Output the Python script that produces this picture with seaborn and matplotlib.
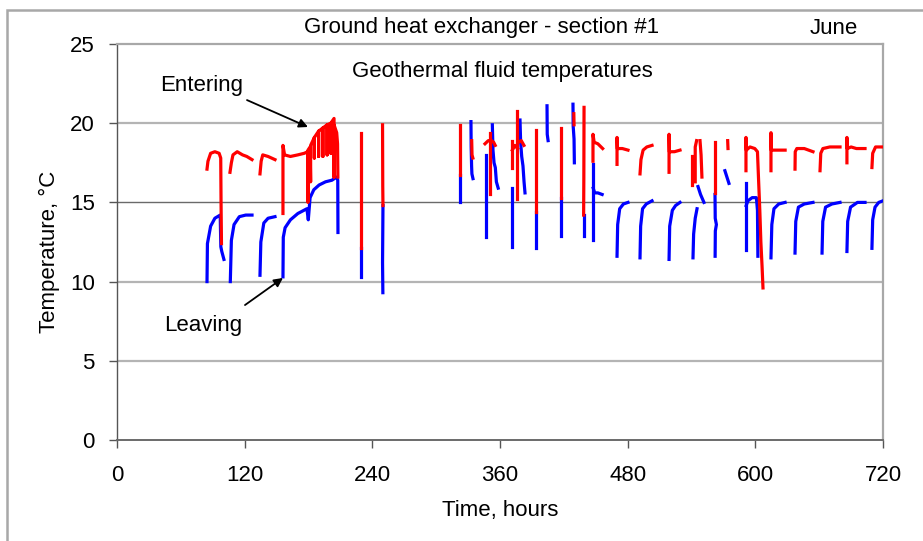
import matplotlib
matplotlib.use("Agg")
import matplotlib.pyplot as plt
from matplotlib.patches import Rectangle
import seaborn as sns
import pandas as pd

# ---------------- data (hours, °C) ----------------
LEAVING = [
    [(84.6, 10.0), (85.0, 12.4), (88.0, 13.5), (92.0, 14.0), (97.0, 14.2), (97.6, 12.2), (98.5, 11.9), (100.5, 11.4)],
    [(106.5, 10.0), (107.5, 12.6), (110.0, 13.6), (115.0, 14.1), (121.0, 14.2), (126.9, 14.2)],
    [(134.4, 10.4), (135.2, 12.5), (138.0, 13.7), (142.0, 14.0), (148.5, 14.1)],
    [(156.0, 10.3), (156.3, 12.8), (158.0, 13.4), (163.0, 13.9), (170.0, 14.3), (178.5, 14.6), (179.8, 13.9),
     (181.5, 15.3), (185.0, 15.8), (190.0, 16.1), (196.0, 16.3), (202.0, 16.4), (206.5, 16.6), (207.5, 16.4), (207.7, 13.1)],
    [(229.3, 12.1), (229.3, 10.3)],
    [(250.0, 14.8), (249.6, 11.2), (249.9, 9.3)],
    [(322.4, 16.7), (322.4, 15.0)],
    [(332.7, 20.1), (332.9, 18.5), (333.3, 17.3), (333.6, 16.8), (334.6, 16.5)],
    [(347.2, 18.0), (347.2, 12.8)],
    [(352.8, 19.9), (353.4, 18.3), (354.4, 17.5), (355.6, 17.2), (356.6, 16.3), (358.3, 15.9)],
    [(371.3, 15.9), (371.3, 12.2)],
    [(378.8, 20.2), (379.4, 18.8), (380.4, 17.9), (381.6, 17.3), (382.6, 16.3), (383.5, 15.6)],
    [(393.8, 14.4), (393.8, 12.1)],
    [(404.2, 21.1), (404.4, 19.3), (405.2, 18.9)],
    [(417.3, 15.3), (417.3, 12.9)],
    [(428.6, 21.2), (428.8, 19.8), (429.6, 19.0), (429.9, 17.5)],
    [(438.6, 14.2), (438.6, 12.9)],
    [(447.4, 17.4), (447.4, 12.6)],
    [(447.6, 15.9), (449.0, 15.6), (452.0, 15.6), (456.0, 15.5)],
    [(470.0, 11.6), (470.6, 13.6), (472.5, 14.6), (476.0, 14.9), (480.3, 15.0)],
    [(491.6, 11.5), (492.2, 13.5), (494.0, 14.6), (497.5, 14.9), (502.9, 15.1)],
    [(518.9, 11.4), (519.5, 13.5), (522.0, 14.5), (525.0, 14.8), (529.2, 15.0)],
    [(541.4, 11.5), (542.0, 13.0), (543.5, 14.0), (545.2, 14.6)],
    [(546.1, 16.0), (548.5, 15.5), (551.7, 15.0)],
    [(562.1, 15.5), (562.3, 14.0), (563.4, 13.6), (562.4, 13.2), (562.2, 11.6)],
    [(571.4, 17.0), (573.3, 16.6), (575.2, 16.2)],
    [(591.2, 16.2), (591.2, 12.0)],
    [(591.4, 14.8), (593.0, 15.1), (597.0, 15.3), (601.0, 15.3), (602.0, 14.5), (602.4, 11.6)],
    [(614.7, 11.5), (615.5, 13.6), (617.5, 14.6), (622.0, 14.9), (628.0, 15.0)],
    [(637.3, 11.8), (638.0, 13.8), (640.5, 14.7), (646.0, 14.9), (654.2, 15.0)],
    [(662.7, 11.8), (663.4, 13.8), (666.0, 14.7), (672.0, 14.9), (679.6, 15.0)],
    [(686.1, 11.9), (686.8, 13.8), (689.5, 14.7), (696.0, 15.0), (703.1, 15.0)],
    [(709.6, 12.1), (710.3, 13.9), (712.5, 14.7), (716.0, 15.0), (720.0, 15.1)],
]

ENTERING = [
    [(84.6, 17.1), (85.5, 17.6), (88.0, 18.1), (92.0, 18.2), (96.0, 18.1), (97.5, 17.8), (97.8, 15.0), (98.2, 12.4)],
    [(106.2, 16.9), (107.5, 17.5), (109.0, 18.0), (113.0, 18.2), (118.0, 18.0), (122.0, 17.9), (126.9, 17.7)],
    [(134.4, 16.8), (135.5, 17.6), (137.0, 18.0), (142.0, 17.9), (148.5, 17.7)],
    [(156.0, 14.3), (156.0, 18.6), (157.5, 18.0), (163.0, 17.9), (170.0, 18.0), (176.0, 18.1), (179.3, 18.2),
     (179.5, 15.0), (179.5, 18.3), (181.5, 18.5), (182.0, 16.3), (182.0, 18.6), (185.5, 19.1),
     (185.5, 17.8), (185.5, 19.1), (189.5, 19.5), (189.5, 17.9), (189.5, 19.5), (193.5, 19.7),
     (193.5, 17.9), (193.5, 19.7), (197.5, 19.9), (197.5, 18.0), (197.5, 19.9),
     (201.0, 20.0), (201.0, 18.1), (201.0, 20.0), (204.0, 20.3), (204.0, 16.6), (204.0, 19.9), (206.5, 19.4),
     (207.3, 18.7), (207.6, 16.6)],
    [(229.3, 19.4), (229.3, 12.1)],
    [(249.6, 19.9), (249.8, 16.0), (250.0, 14.8)],
    [(322.4, 19.9), (322.4, 16.7)],
    [(333.4, 18.9), (333.7, 18.0), (334.5, 17.8)],
    [(350.6, 19.4), (350.6, 15.5)],
    [(345.9, 18.7), (349.0, 18.9), (352.0, 18.9), (354.0, 18.8), (355.5, 18.6)],
    [(371.3, 18.9), (371.3, 17.2)],
    [(371.6, 18.3), (374.0, 18.6), (376.5, 18.4)],
    [(376.0, 20.8), (376.0, 15.2)],
    [(377.5, 18.8), (380.0, 18.9), (382.5, 18.6)],
    [(393.8, 19.6), (393.8, 14.4)],
    [(417.3, 19.7), (417.3, 15.3)],
    [(429.4, 20.6), (429.6, 19.9)],
    [(439.0, 21.0), (438.8, 16.5), (438.6, 14.2)],
    [(447.4, 17.6), (447.4, 19.3), (448.5, 18.8), (452.0, 18.7), (456.5, 18.4)],
    [(470.0, 17.4), (470.0, 19.1), (470.3, 18.4), (475.0, 18.4), (480.3, 18.3)],
    [(491.6, 16.8), (492.5, 17.7), (494.5, 18.3), (498.0, 18.5), (502.9, 18.6)],
    [(518.9, 16.9), (518.9, 19.3), (519.2, 18.2), (524.0, 18.2), (529.2, 18.3)],
    [(540.5, 16.1), (540.5, 17.9)],
    [(543.5, 16.3), (543.5, 18.5), (544.8, 18.9)],
    [(548.0, 18.9), (549.0, 18.0), (549.8, 16.6)],
    [(562.1, 18.8), (562.1, 15.6)],
    [(574.0, 18.9), (574.3, 18.4)],
    [(591.2, 17.0), (591.2, 19.1), (591.5, 18.3), (595.0, 18.5), (599.5, 18.4), (602.0, 18.2), (603.0, 16.5),
     (604.2, 14.5), (605.2, 12.5), (606.3, 11.0), (607.2, 9.6)],
    [(614.7, 17.0), (614.7, 19.4), (615.0, 18.3), (620.0, 18.3), (628.0, 18.3)],
    [(637.3, 17.1), (637.5, 18.2), (639.0, 18.4), (646.0, 18.4), (654.2, 18.2)],
    [(660.8, 17.0), (661.5, 18.1), (663.5, 18.4), (670.0, 18.5), (679.6, 18.5)],
    [(686.1, 17.5), (686.1, 19.1), (686.4, 18.4), (690.0, 18.5), (695.0, 18.4), (703.1, 18.4)],
    [(709.6, 17.2), (710.3, 18.1), (713.0, 18.5), (720.0, 18.5)],
]

X_TICKS = [0, 120, 240, 360, 480, 600, 720]
Y_TICKS = [0, 5, 10, 15, 20, 25]

TITLE = "Ground heat exchanger - section #1"
MONTH = "June"
SUBTITLE = "Geothermal fluid temperatures"
X_LABEL = "Time, hours"
Y_LABEL = "Temperature, °C"


def to_frame(segments):
    rows = []
    for sid, seg in enumerate(segments):
        for h, t in seg:
            rows.append({"seg": sid, "hour": h, "temp": t})
    return pd.DataFrame(rows)


plt.rcParams["font.family"] = ["Liberation Sans", "DejaVu Sans"]
plt.rcParams["font.size"] = 16

W, H = 923, 541
fig = plt.figure(figsize=(W / 100, H / 100), dpi=100)
ax = fig.add_axes([117 / W, 1 - 440 / H, (883 - 117) / W, (440 - 44) / H])


def fx(px):
    return px / W


def fy(py):
    return 1 - py / H


# gridlines
for yv in [5, 10, 20]:
    ax.axhline(yv, color="#b4b4b4", lw=1.6, zorder=1)
ax.axhline(15, color="#6a6a6a", lw=1.0, zorder=1)

lw = 2.3
sns.lineplot(data=to_frame(LEAVING), x="hour", y="temp", units="seg", estimator=None,
             sort=False, color="#0000ff", lw=lw, ax=ax, legend=False, zorder=3)
sns.lineplot(data=to_frame(ENTERING), x="hour", y="temp", units="seg", estimator=None,
             sort=False, color="#ff0000", lw=lw, ax=ax, legend=False, zorder=4)

ax.set_xlim(0, 720)
ax.set_ylim(0, 25)
ax.set_xticks(X_TICKS)
ax.set_yticks(Y_TICKS)
ax.tick_params(axis="both", direction="out", length=6, width=1.0, color="#555555",
               labelsize=16, labelcolor="black")
ax.tick_params(axis="x", pad=12)
ax.tick_params(axis="y", pad=10)

for side in ["top", "right"]:
    ax.spines[side].set_color("#a8a8a8")
    ax.spines[side].set_linewidth(1.6)
ax.spines["left"].set_color("#555555")
ax.spines["bottom"].set_color("#6a6a6a")
ax.spines["left"].set_linewidth(1.0)
ax.spines["bottom"].set_linewidth(1.4)

ax.set_xlabel(X_LABEL, fontsize=16)
ax.set_ylabel(Y_LABEL, fontsize=16)
ax.xaxis.set_label_coords(0.5, -0.152)
ax.yaxis.set_label_coords(-0.075, 0.475)

# texts
fig.text(fx(482), fy(28), TITLE, ha="center", va="center", fontsize=16)
fig.text(fx(834), fy(28), MONTH, ha="center", va="center", fontsize=16)
fig.text(fx(502), fy(72), SUBTITLE, ha="center", va="center", fontsize=16)
fig.text(fx(202), fy(85), "Entering", ha="center", va="center", fontsize=16)
fig.text(fx(203), fy(325), "Leaving", ha="center", va="center", fontsize=16)

arrow = dict(arrowstyle="-|>", color="black", lw=1.3, mutation_scale=13, shrinkA=0, shrinkB=0)
ax.annotate("", xy=(179.5, 19.76), xytext=(122.2, 21.46), arrowprops=arrow, annotation_clip=False)
ax.annotate("", xy=(156.0, 10.23), xytext=(120.3, 8.52), arrowprops=arrow, annotation_clip=False)

# outer chart-area frame (top and left edges visible)
fig.patches.append(Rectangle((fx(7), -0.5), 2.0, fy(10) + 0.5, transform=fig.transFigure,
                             fill=False, edgecolor="#a8a8a8", lw=1.8))

fig.savefig("out.png", dpi=100)
